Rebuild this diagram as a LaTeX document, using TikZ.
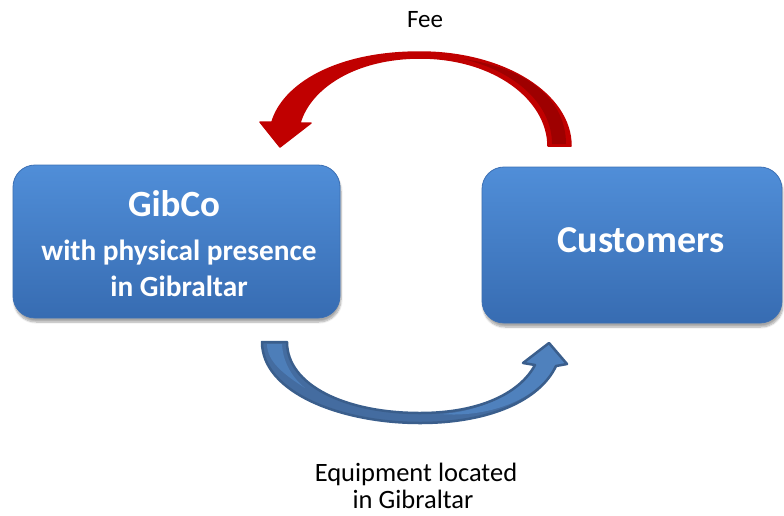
\documentclass[tikz,border=0pt]{standalone}
\usepackage{fontspec}
\setmainfont{Carlito}
\usetikzlibrary{shadows.blur}
\definecolor{boxtop}{RGB}{80,142,216}
\definecolor{boxbot}{RGB}{55,108,178}
\definecolor{boxedge}{RGB}{60,112,180}
\definecolor{redmain}{RGB}{192,0,0}
\definecolor{reddark}{RGB}{158,0,0}
\definecolor{bluefill}{RGB}{79,129,189}
\definecolor{blueline}{RGB}{58,94,140}
\definecolor{blueback}{RGB}{68,108,160}
\begin{document}
\begin{tikzpicture}[x=1pt,y=-1pt,
  box/.style={rounded corners=22pt, top color=boxtop, bottom color=boxbot,
    draw=boxedge, line width=0.8pt,
    blur shadow={shadow blur steps=8, shadow xshift=1pt, shadow yshift=-4pt, shadow opacity=35}},
  boxtxt/.style={text=white, font=\bfseries\fontsize{#1}{#1}\selectfont, anchor=base, inner sep=0pt},
  labtxt/.style={text=black, font=\fontsize{#1}{#1}\selectfont, anchor=base, inner sep=0pt}
]
\useasboundingbox (0,0) rectangle (784,515);

% boxes
\node[box, minimum width=327pt, minimum height=153pt] (gib) at (176.5,241.5) {};
\node[box, minimum width=300pt, minimum height=156pt] (cus) at (632,245) {};

\node[boxtxt=37] (gibt1) at (174,216) {GibCo};
\node[boxtxt=29.3] (gibt2) at (179,260) {with physical presence};
\node[boxtxt=29.3] (gibt3) at (179,296.5) {in Gibraltar};
\node[boxtxt=38] (cust) at (641,252) {Customers};

% red arrow (Fee)
\filldraw[fill=redmain, draw=redmain, line width=1.5pt, line join=round]
  (571,146) .. controls (571,94) and (504,52) .. (420,52)
  .. controls (335,52) and (283,85) .. (272,122)
  -- (260,122) -- (280,147) -- (311,123) -- (300,123)
  .. controls (310,88) and (355,58) .. (420,58)
  .. controls (495,58) and (548,100) .. (548,146) -- cycle;
\fill[reddark]
  (552,144) .. controls (552,106) and (518,72) .. (463,59)
  .. controls (528,68) and (566,100) .. (566,144) -- cycle;

% blue arrow (Equipment)
\fill[blueback]
  (262,342) .. controls (262,392) and (340,423) .. (420,423)
  .. controls (490,423) and (540,400) .. (556,366)
  -- (567,364) -- (549,343) -- (523,363) -- (535,365)
  .. controls (520,393) and (480,413) .. (420,413)
  .. controls (345,413) and (287,385) .. (287,342) -- cycle;
\fill[bluefill]
  (440,414) .. controls (492,418) and (538,398) .. (556,366)
  -- (567,364) -- (549,343) -- (523,363) -- (535,365)
  .. controls (520,393) and (480,412) .. (440,414) -- cycle;
\fill[bluefill!85!blueback]
  (267,344) -- (282,344) .. controls (283,365) and (295,380) .. (305,388)
  .. controls (285,375) and (267,362) .. (267,344) -- cycle;
\draw[draw=blueline, line width=2.5pt, line join=round]
  (262,342) .. controls (262,392) and (340,423) .. (420,423)
  .. controls (490,423) and (540,400) .. (556,366)
  -- (567,364) -- (549,343) -- (523,363) -- (535,365)
  .. controls (520,393) and (480,413) .. (420,413)
  .. controls (345,413) and (287,385) .. (287,342) -- cycle;

% labels
\node[labtxt=25] (fee) at (425,27) {Fee};
\node[labtxt=26.5] (eq1) at (416,481) {Equipment located};
\node[labtxt=26.5] (eq2) at (413,508.5) {in Gibraltar};
\end{tikzpicture}
\end{document}
